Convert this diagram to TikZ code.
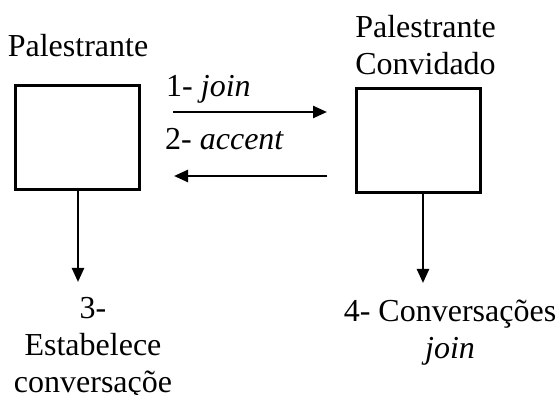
\documentclass[tikz,border=0pt]{standalone}
\usepackage{fontspec}
\setmainfont{Liberation Serif}
\usetikzlibrary{arrows.meta}
\begin{document}
\begin{tikzpicture}[x=1pt,y=-1pt,
  txt/.style={font=\fontsize{32}{37}\selectfont, inner sep=0pt},
  entity/.style={draw, line width=3pt, minimum width=124pt, minimum height=104pt, inner sep=0pt},
  msg/.style={line width=2.4pt, -{Triangle[length=14pt,width=12pt]}}]
\useasboundingbox (0,0) rectangle (560,395);
\node[entity] (pal) at (77,138) {};
\node[entity] (conv) at (418.5,140.5) {};
\node[txt, anchor=base] (palT) at (78,57) {Palestrante};
\node[txt, anchor=north, align=center] (convT) at (425.5,15) {Palestrante\\Convidado};
\node[txt, anchor=base west] (l1) at (166,97) {1- \textit{join}};
\node[txt, anchor=base west] (l2) at (165,150) {2- \textit{accent}};
\coordinate (a1s) at (173,112);
\coordinate (a1e) at (327,112);
\coordinate (a2s) at (327,176);
\coordinate (a2e) at (174,176);
\draw[msg] (a1s) -- (a1e);
\draw[msg] (a2s) -- (a2e);
\node[txt, anchor=north, align=center] (est) at (93,297) {3-\\Estabelece\\conversaçõe};
\node[txt, anchor=north, align=center] (conj) at (450,300) {4- Conversações\\\textit{join}};
\draw[msg] (pal.south -| 78,0) -- (78,282) coordinate (d1);
\draw[msg] (conv.south -| 423,0) -- (423,283) coordinate (d2);
\end{tikzpicture}
\end{document}
